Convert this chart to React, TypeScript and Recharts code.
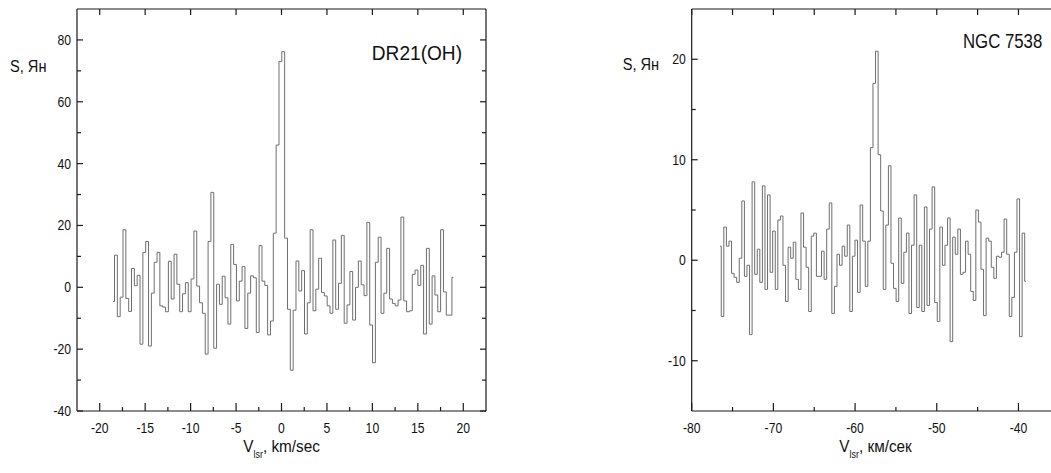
import React from 'react';
import { LineChart, Line, XAxis, YAxis } from 'recharts';

// ---------- DR21(OH) spectrum ----------
const DR21_V_START = -18.53; // km/s, first channel
const DR21_DV = 0.312; // km/s, channel width
const DR21_S = [
  -4.6, 10.4, -9.5, -3.2, 18.6, -3.6, -7.8, 6.1, 0.5, 3.9,
  -18.4, 11.3, 14.8, -19.0, -1.9, 8.1, 11.3, -6.0, -6.4, -7.9,
  8.4, -3.8, 10.7, 1.0, -7.9, -2.1, 1.5, -7.9, 2.7, 18.2,
  0.4, -5.0, -8.4, -21.6, 14.8, 30.7, -19.7, 1.0, -5.5, 3.6,
  -3.4, -11.9, 13.9, 7.4, -4.4, 2.0, 6.7, -13.3, -1.9, 3.7,
  3.1, -14.6, 13.5, 2.0, 0.6, -15.4, -10.9, 17.5, 46.0, 73.0,
  76.2, 15.9, -7.1, -26.8, -7.4, 8.5, -1.2, 5.4, -15.1, -5.0,
  18.6, -7.6, -0.6, 9.4, -1.7, -2.8, -6.0, -8.4, 15.3, -7.1,
  1.3, 16.8, -11.6, -5.7, 5.1, -10.6, 0.0, 8.5, 0.8, -2.7,
  21.0, -12.2, -24.4, 8.1, 16.2, -8.4, -1.9, 12.6, -3.8, -5.2,
  -6.0, -4.1, 22.7, -4.4, -7.9, -7.6, 4.2, 5.6, 0.6, 7.1,
  -15.1, 12.6, -11.9, 3.7, -2.5, -7.9, 18.6, -1.5, -9.0, -9.0,
  3.2,
];
const DR21_X_DOMAIN = [-22.5, 22.5];
const DR21_Y_DOMAIN = [-40, 90];
const DR21_X_TICKS = [-20, -17.5, -15, -12.5, -10, -7.5, -5, -2.5, 0, 2.5, 5, 7.5, 10, 12.5, 15, 17.5, 20];
const DR21_X_LABELS = [-20, -15, -10, -5, 0, 5, 10, 15, 20];
const DR21_Y_TICKS = [-40, -30, -20, -10, 0, 10, 20, 30, 40, 50, 60, 70, 80];
const DR21_Y_LABELS = [-40, -20, 0, 20, 40, 60, 80];

// ---------- NGC 7538 spectrum ----------
const NGC_V_START = -76.54;
const NGC_DV = 0.3148;
const NGC_S = [
  1.4, -5.6, 3.3, 1.4, 1.9, -1.3, -1.7, -2.2, 0.2, 5.9,
  -1.6, -0.5, -7.4, 7.8, -1.4, 1.1, -2.2, 7.4, -2.9, 6.5,
  -1.2, 2.9, -2.9, 4.0, 4.4, -0.5, -4.1, 1.3, 0.2, 1.8,
  -1.9, -2.9, 4.7, 1.3, -0.7, -5.1, 2.4, 2.7, -1.6, -1.6,
  0.9, -1.9, 3.1, 5.7, -5.3, -2.6, 0.6, -0.5, 1.4, 0.4,
  3.5, -5.1, 0.4, 2.0, -3.2, 5.5, 1.9, -2.6, 1.9, 11.2,
  17.6, 20.8, 10.5, 4.9, -2.9, 3.5, 9.4, -0.3, -2.8, -4.1,
  4.2, -2.3, 0.8, 2.7, -5.3, 1.5, 6.5, -4.7, 1.5, -5.1,
  5.3, -4.5, 3.1, 7.3, -4.2, -6.1, 3.3, -0.5, 1.5, 4.2,
  -8.1, 2.3, 0.6, 3.1, -1.4, -1.2, 1.9, 0.6, -3.1, -4.0,
  5.0, 3.8, -0.9, -5.5, 2.2, 1.9, -0.7, -1.8, 0.4, 0.3,
  0.8, 4.1, 0.6, -5.6, -3.7, 0.8, 6.1, -7.6, 2.7, -2.1,
];
const NGC_X_DOMAIN = [-80, -35];
const NGC_Y_DOMAIN = [-15, 25];
const NGC_X_TICKS = [-80, -75, -70, -65, -60, -55, -50, -45, -40];
const NGC_X_LABELS = [-80, -70, -60, -50, -40];
const NGC_Y_TICKS = [-10, -5, 0, 5, 10, 15, 20];
const NGC_Y_LABELS = [-10, 0, 10, 20];

const dr21Data = DR21_S.map((s, i) => ({ v: DR21_V_START + i * DR21_DV, s }));
const ngcData = NGC_S.map((s, i) => ({ v: NGC_V_START + i * NGC_DV, s }));

const FONT = "'Liberation Sans', Arial, sans-serif";
const AXIS_COLOR = '#1a1a1a';
const SERIES_COLOR = '#6e6e6e';
const TEXT_COLOR = '#111';

// horizontally condensed text (the reference uses a narrow Arial-like face)
function SText(props: {
  x: number;
  y: number;
  sx: number;
  size: number;
  anchor: 'start' | 'middle' | 'end';
  children: React.ReactNode;
}) {
  return (
    <text
      transform={`translate(${props.x} ${props.y}) scale(${props.sx} 1)`}
      x={0}
      y={0}
      textAnchor={props.anchor}
      fontSize={props.size}
      fontFamily={FONT}
      fill={TEXT_COLOR}
    >
      {props.children}
    </text>
  );
}

type Side = 'bottom' | 'top' | 'left' | 'right';

function isIn(list: number[], v: number) {
  return list.some((l) => Math.abs(l - v) < 1e-6);
}

function makeTick(side: Side, labels: number[], major: number, minor: number, topMarks?: number[]) {
  return (props: any) => {
    const { x, y, payload } = props;
    const v: number = payload.value;
    const isLab = isIn(labels, v);
    let len = isLab ? major : minor;
    if (topMarks) len = isIn(topMarks, v) ? major : 0;
    let x2 = x;
    let y2 = y;
    let label: React.ReactNode = null;
    if (side === 'bottom') {
      y2 = y - len;
      if (isLab)
        label = (
          <SText x={x} y={y + 22} sx={0.87} size={14} anchor="middle">
            {String(v)}
          </SText>
        );
    } else if (side === 'top') {
      y2 = y + len;
    } else if (side === 'left') {
      x2 = x + len;
      if (isLab)
        label = (
          <SText x={x - 6} y={y + 5} sx={0.87} size={14} anchor="end">
            {String(v)}
          </SText>
        );
    } else {
      x2 = x - len;
    }
    return (
      <g>
        {len > 0 ? <line x1={x} y1={y} x2={x2} y2={y2} stroke={AXIS_COLOR} strokeWidth={1.2} /> : null}
        {label}
      </g>
    );
  };
}

function xTitle(unit: string) {
  return (p: any) => {
    const vb = p.viewBox;
    const cx = vb.x + vb.width / 2;
    return (
      <SText x={cx} y={vb.y + 41} sx={0.9} size={17} anchor="middle">
        <tspan>V</tspan>
        <tspan dy={6} fontSize={10}>lsr</tspan>
        <tspan dy={-6}>{', ' + unit}</tspan>
      </SText>
    );
  };
}

function yTitle(dx: number, dy: number) {
  return (p: any) => {
    const vb = p.viewBox;
    return (
      <SText x={vb.x + vb.width + dx} y={vb.y + dy} sx={0.86} size={17} anchor="start">
        S, Ян
      </SText>
    );
  };
}

function plotTitle(text: string, dxFromRight: number, dy: number, size: number, sx: number) {
  return (p: any) => {
    const vb = p.viewBox;
    return (
      <SText x={vb.x + vb.width - dxFromRight} y={vb.y + vb.height + dy} sx={sx} size={size} anchor="end">
        {text}
      </SText>
    );
  };
}

interface PanelProps {
  data: { v: number; s: number }[];
  width: number;
  height: number;
  margin: { top: number; right: number; bottom: number; left: number };
  xDomain: number[];
  yDomain: number[];
  xTicks: number[];
  xLabels: number[];
  topMarks: number[];
  yTicks: number[];
  yLabels: number[];
  rightAxis: boolean;
  title: string;
  titleDx: number;
  titleDy: number;
  titleSize: number;
  titleSx: number;
  unit: string;
  yTitleDx: number;
  yTitleDy: number;
}

function Panel(p: PanelProps) {
  const margin = p.rightAxis ? p.margin : { ...p.margin, right: p.margin.right + 1 };
  return (
    <LineChart width={p.width} height={p.height} data={p.data} margin={margin}>
      <XAxis
        xAxisId="b"
        dataKey="v"
        type="number"
        domain={p.xDomain}
        allowDataOverflow
        ticks={p.xTicks}
        interval={0}
        height={1}
        tickSize={0}
        tickMargin={0}
        tickLine={false}
        axisLine={{ stroke: AXIS_COLOR, strokeWidth: 1.2 }}
        tick={makeTick('bottom', p.xLabels, 8, 4)}
        label={{ content: xTitle(p.unit) }}
      />
      <XAxis
        xAxisId="t"
        dataKey="v"
        orientation="top"
        type="number"
        domain={p.xDomain}
        allowDataOverflow
        ticks={p.xTicks}
        interval={0}
        height={1}
        tickSize={0}
        tickMargin={0}
        tickLine={false}
        axisLine={{ stroke: AXIS_COLOR, strokeWidth: 1.2 }}
        tick={makeTick('top', [], 6, 0, p.topMarks)}
        label={{ content: plotTitle(p.title, p.titleDx, p.titleDy, p.titleSize, p.titleSx) }}
      />
      <YAxis
        yAxisId="l"
        type="number"
        domain={p.yDomain}
        allowDataOverflow
        ticks={p.yTicks}
        interval={0}
        width={1}
        tickSize={0}
        tickMargin={0}
        tickLine={false}
        axisLine={{ stroke: AXIS_COLOR, strokeWidth: 1.2 }}
        tick={makeTick('left', p.yLabels, 6, 4)}
        label={{ content: yTitle(p.yTitleDx, p.yTitleDy) }}
      />
      {p.rightAxis ? (
        <YAxis
          yAxisId="r"
          orientation="right"
          type="number"
          domain={p.yDomain}
          allowDataOverflow
          ticks={p.yTicks}
          interval={0}
          width={1}
          tickSize={0}
          tickMargin={0}
          tickLine={false}
          axisLine={{ stroke: AXIS_COLOR, strokeWidth: 1.2 }}
          tick={makeTick('right', p.yLabels, 6, 4)}
        />
      ) : null}
      <Line
        xAxisId="b"
        yAxisId="l"
        type="step"
        dataKey="s"
        stroke={SERIES_COLOR}
        strokeWidth={1}
        dot={false}
        activeDot={false}
        isAnimationActive={false}
      />
    </LineChart>
  );
}

export default function App() {
  return (
    <div
      style={{
        position: 'fixed',
        left: 0,
        top: 0,
        width: 1051,
        height: 473,
        overflow: 'hidden',
        background: '#fff',
      }}
    >
      <div style={{ position: 'absolute', left: 0, top: 0 }}>
        <Panel
          data={dr21Data}
          width={500}
          height={473}
          margin={{ top: 8, left: 76, right: 13, bottom: 61 }}
          xDomain={DR21_X_DOMAIN}
          yDomain={DR21_Y_DOMAIN}
          xTicks={DR21_X_TICKS}
          xLabels={DR21_X_LABELS}
          topMarks={DR21_X_LABELS}
          yTicks={DR21_Y_TICKS}
          yLabels={DR21_Y_LABELS}
          rightAxis={true}
          title="DR21(OH)"
          titleDx={24}
          titleDy={51}
          titleSize={21}
          titleSx={0.91}
          unit="km/sec"
          yTitleDx={-67}
          yTitleDy={63}
        />
      </div>
      <div style={{ position: 'absolute', left: 520, top: 0 }}>
        <Panel
          data={ngcData}
          width={560}
          height={473}
          margin={{ top: 8, left: 170.7, right: 19.7, bottom: 61 }}
          xDomain={NGC_X_DOMAIN}
          yDomain={NGC_Y_DOMAIN}
          xTicks={NGC_X_TICKS}
          xLabels={NGC_X_LABELS}
          topMarks={NGC_X_TICKS}
          yTicks={NGC_Y_TICKS}
          yLabels={NGC_Y_LABELS}
          rightAxis={false}
          title="NGC 7538"
          titleDx={17}
          titleDy={39}
          titleSize={21}
          titleSx={0.8}
          unit="км/сек"
          yTitleDx={-69}
          yTitleDy={61}
        />
      </div>
    </div>
  );
}
